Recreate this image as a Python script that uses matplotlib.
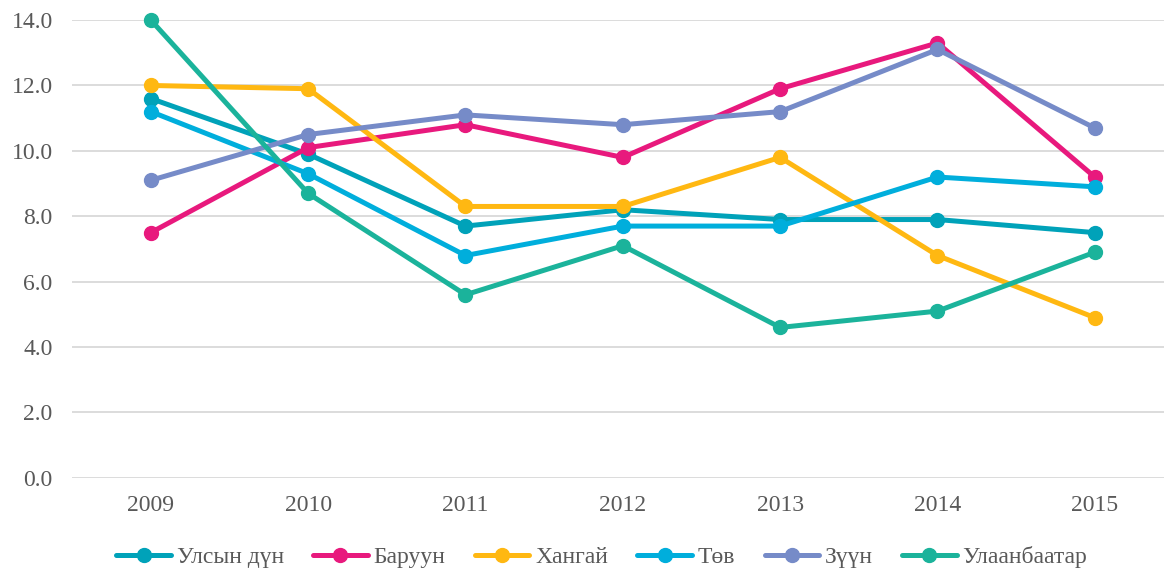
import matplotlib.pyplot as plt

plt.rcParams['font.family'] = ['Liberation Serif', 'DejaVu Serif']

years = ['2009', '2010', '2011', '2012', '2013', '2014', '2015']
names = ['Улсын дүн', 'Баруун', 'Хангай', 'Төв', 'Зүүн', 'Улаанбаатар']
colors = ['#00A2B9', '#E8197D', '#FFB812', '#00AEDC', '#768BC8', '#1BB39B']

ulsyn_dun = [11.6, 9.9, 7.7, 8.2, 7.9, 7.9, 7.5]
baruun = [7.5, 10.1, 10.8, 9.8, 11.9, 13.3, 9.2]
khangai = [12.0, 11.9, 8.3, 8.3, 9.8, 6.8, 4.9]
tov = [11.2, 9.3, 6.8, 7.7, 7.7, 9.2, 8.9]
zuun = [9.1, 10.5, 11.1, 10.8, 11.2, 13.1, 10.7]
ulaanbaatar = [14.0, 8.7, 5.6, 7.1, 4.6, 5.1, 6.9]

series = [ulsyn_dun, baruun, khangai, tov, zuun, ulaanbaatar]

fig = plt.figure(figsize=(11.64, 5.73), dpi=100)
ax = fig.add_axes([0.062, 0.166, 0.938, 0.799])

x = list(range(len(years)))
for vals, name, c in zip(series, names, colors):
    ax.plot(x, vals, color=c, lw=3.6, marker='o', ms=10, label=name,
            clip_on=False, solid_capstyle='round')

ax.set_xlim(-0.5, 6.44)
ax.set_ylim(0, 14)
ax.set_yticks([0, 2, 4, 6, 8, 10, 12, 14])
ax.set_yticklabels(['{:.1f}'.format(v) for v in ax.get_yticks()])
ax.set_xticks(x)
ax.set_xticklabels(years)
ax.tick_params(length=0, labelsize=17, labelcolor='#595959')
ax.tick_params(axis='y', pad=14)
ax.tick_params(axis='x', pad=12)
ax.grid(axis='y', color='#D9D9D9', lw=1.3)
ax.set_axisbelow(True)
for s in ax.spines.values():
    s.set_visible(False)

handles, labels = ax.get_legend_handles_labels()
leg = fig.legend(handles, labels, loc='center', bbox_to_anchor=(0.517, 0.028),
                 ncol=6, frameon=False, fontsize=17, handlelength=2.3,
                 columnspacing=1.25, handletextpad=0.25, borderaxespad=0)
for t in leg.get_texts():
    t.set_color('#595959')

fig.savefig('out.png', dpi=100)
